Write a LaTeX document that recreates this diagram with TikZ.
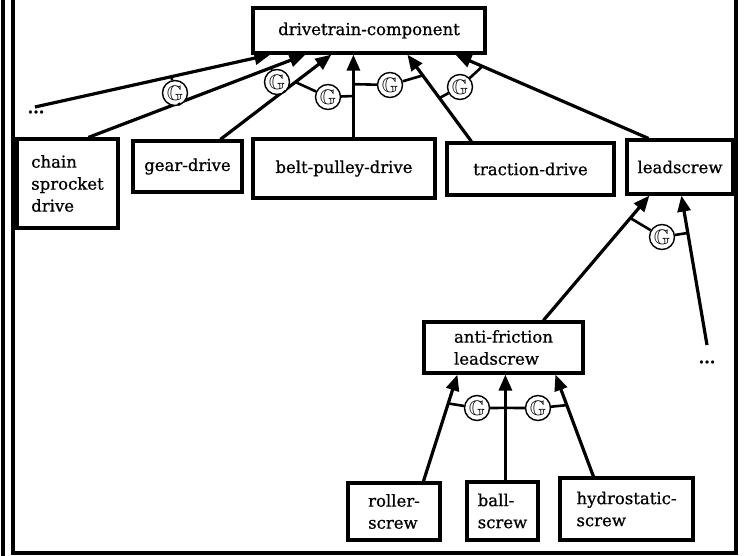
\documentclass[tikz,border=0pt]{standalone}
\usepackage{fontspec}
\usepackage{amssymb}
\usepackage{graphicx}
\setmainfont{DejaVu Serif}[FakeBold=0.8]
\usetikzlibrary{arrows.meta,calc}
\newcommand{\genmark}{\scalebox{2.1}{$\mathbb{G}$}}
\begin{document}
\begin{tikzpicture}[x=1pt,y=-1pt,
  box/.style={draw,line width=3.2pt,inner sep=0pt,align=left,
    font=\fontsize{16.5}{22}\selectfont},
  link/.style={line width=3.2pt,-{Triangle[length=16pt,width=13pt]}},
  gen/.style={draw,circle,line width=1.4pt,minimum size=25pt,inner sep=0pt,
    fill=white,font=\fontsize{10}{10}\selectfont},
  tie/.style={line width=2.6pt},
  frameline/.style={line width=3.4pt},
  more/.style={inner sep=0pt,font=\fontsize{16}{16}\bfseries}]
\useasboundingbox (0,0) rectangle (746,556);

% frame
\draw[frameline] (3,0) -- (3,556);
\draw[frameline] (13,0) -- (13,553) -- (736,553) -- (736,0);

% classes
\node[box,minimum width=232pt,minimum height=45pt] (top) at (369,30.5) {drivetrain-component};
\node[box,minimum width=101pt,minimum height=89pt] (chain) at (67.5,183.5) {chain\\sprocket\\drive};
\node[box,minimum width=109pt,minimum height=51pt] (gear) at (187.5,166.5) {gear-drive};
\node[box,minimum width=182pt,minimum height=59pt] (belt) at (344,168.5) {belt-pulley-drive};
\node[box,minimum width=167pt,minimum height=52pt] (traction) at (530.5,169) {traction-drive};
\node[box,minimum width=106pt,minimum height=54pt] (lead) at (680,167) {leadscrew};
\node[box,minimum width=159pt,minimum height=51pt] (anti) at (503.5,347.5) {anti-friction\\leadscrew};
\node[box,minimum width=92pt,minimum height=57pt] (roller) at (394,511.5) {roller-\\screw};
\node[box,minimum width=71pt,minimum height=58pt] (ball) at (502.5,511) {ball-\\screw};
\node[box,minimum width=133pt,minimum height=62pt] (hydro) at (626.5,509) {hydrostatic-\\screw};

% elided subclasses
\node[more] (dotsL) at (36,112) {...};
\coordinate (dotsLend) at (35,107);
\node[more] (dotsR) at (707,362) {...};
\coordinate (dotsRend) at (707,345);

% end points of the generalisation arrows
\coordinate (t1) at ([xshift=19pt]top.south west);
\coordinate (t2) at ([xshift=54pt]top.south west);
\coordinate (t3) at ([xshift=80pt]top.south west);
\coordinate (t4) at ([xshift=102pt]top.south west);
\coordinate (t5) at ([xshift=156pt]top.south west);
\coordinate (t6) at ([xshift=204pt]top.south west);
\coordinate (s2) at ([xshift=73pt]chain.north west);
\coordinate (s3) at ([xshift=89pt]gear.north west);
\coordinate (s4) at ([xshift=102pt]belt.north west);
\coordinate (s5) at ([xshift=26pt]traction.north west);
\coordinate (s6) at ([xshift=23pt]lead.north west);
\coordinate (l1) at ([xshift=24pt]lead.south west);
\coordinate (l2) at ([xshift=56pt]lead.south west);
\coordinate (a0) at ([xshift=121pt]anti.north west);
\coordinate (a1) at ([xshift=35pt]anti.south west);
\coordinate (a2) at ([xshift=83pt]anti.south west);
\coordinate (a3) at ([xshift=133pt]anti.south west);
\coordinate (r0) at ([xshift=77pt]roller.north west);
\coordinate (b0) at ([xshift=40pt]ball.north west);
\coordinate (h0) at ([xshift=35pt]hydro.north west);

% arrows
\draw[link] (dotsLend) -- (t1);
\draw[link] (s2) -- (t2);
\draw[link] (s3) -- (t3);
\draw[link] (s4) -- (t4);
\draw[link] (s5) -- (t5);
\draw[link] (s6) -- (t6);
\draw[link] (a0) -- (l1);
\draw[link] (dotsRend) -- (l2);
\draw[link] (r0) -- (a1);
\draw[link] (b0) -- (a2);
\draw[link] (h0) -- (a3);

% generalisation sets
\node[gen] (g0) at (175,93) {\genmark};
\node[gen] (g1) at (277,82) {\genmark};
\node[gen] (g2) at (328,97) {\genmark};
\node[gen] (g3) at (390,85) {\genmark};
\node[gen] (g4) at (460,87) {\genmark};
\node[gen] (g5) at (662,237) {\genmark};
\node[gen] (g6) at (477,408) {\genmark};
\node[gen] (g7) at (538,408) {\genmark};

\draw[tie] (g0) -- ($(dotsLend)!(g0)!(t1)$);
\draw[tie] (g0) -- ($(s2)!(g0)!(t2)$);
\draw[tie] (g1) -- ($(s2)!(g1)!(t2)$);
\draw[tie] (g1) -- ($(s3)!(g1)!(t3)$);
\draw[tie] (g2) -- ($(s3)!0.676!(t3)$);
\draw[tie] (g2) -- ($(s4)!0.5!(t4)$);
\draw[tie] (g3) -- ($(s4)!0.643!(t4)$);
\draw[tie] (g3) -- ($(s5)!0.76!(t5)$);
\draw[tie] (g4) -- ($(s5)!0.5!(t5)$);
\draw[tie] (g4) -- ($(s6)!0.86!(t6)$);
\draw[tie] (g5) -- ($(a0)!0.82!(l1)$);
\draw[tie] (g5) -- ($(dotsRend)!0.75!(l2)$);
\draw[tie] (g6) -- ($(r0)!0.73!(a1)$);
\draw[tie] (g6) -- ($(b0)!0.685!(a2)$);
\draw[tie] (g7) -- ($(b0)!0.685!(a2)$);
\draw[tie] (g7) -- ($(h0)!0.70!(a3)$);
\end{tikzpicture}
\end{document}
